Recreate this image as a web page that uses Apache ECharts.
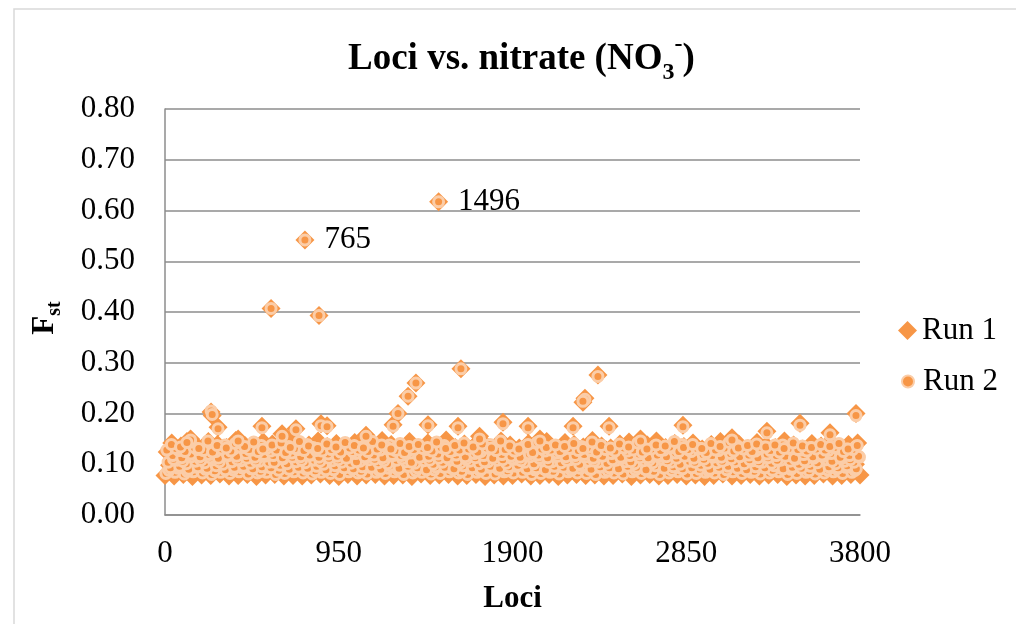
<!DOCTYPE html>
<html>
<head>
<meta charset="utf-8">
<script src="https://cdn.jsdelivr.net/npm/echarts@6/dist/echarts.min.js"></script>
<style>html,body{margin:0;padding:0;background:#fff}#c{width:1016px;height:624px}</style>
</head>
<body>
<div id="c"></div>
<script>
// x-axis tick labels
var xTicks = [0, 950, 1900, 2850, 3800];
// Dense band values are Fst x 1000, read as rows of loci sampled every 50 loci (row start locus given)
var rowStep = 50;
var run1Rows = [
 { start: 0, fst: [78,77,80,76,79,78,81,77,78,80,76,79,80,77,78,77,79,81,78,76,80,77,79,80,77,78,79,76,81,78,79,80,77,78,80,76,79,77,78,81,77,78,80,76,79,80,78,79,77,78,81,76,79,80,77,78,80,77,79,76,78,81,77,78,80,77,79,80,76,79,77,78,81,77,78,80,79] },
 { start: 25, fst: [98,104,93,107,96,101,92,106,99,95,103,94,100,97,108,95,101,105,92,102,97,106,95,99,104,91,100,107,96,98,103,94,101,97,106,93,99,105,96,102,92,107,98,95,103,100,108,94,101,97,105,93,99,104,96,106,97,100,94,103,98,105,93,101,96,107,95,99,104,94,102,98,104,96,106,100] },
 { start: 12, fst: [124,118,129,121,127,116,125,120,128,117,123,130,119,126,122,117,128,121,125,118,129,120,124,116,127,122,119,130,118,125,121,128,117,123,126,120,129,118,124,121,116,127,122,125,119,130,117,123,128,120,126,118,124,121,129,117,125,122,119,127,120,128,116,124,122,126,118,129,121,125,117,123,127,120,124,122] },
 { start: 37, fst: [142,136,148,131,145,139,133,147,137,130,144,140,134,149,132,138,146,135,141,129,143,137,131,147,139,134,145,130,142,136,148,133,140,135,144,131,146,138,132,141,137,145,130,143,139,134,147,136,132,140,144,129,138,146,133,141,135,142,130,139,145,134,140,131,143,137,133,146,138,130,141,136,144,132,139,142] }
];
var run2Rows = [
 { start: 5, fst: [82,84,81,85,83,80,84,82,85,81,83,84,80,82,85,83,81,84,82,80,85,83,81,84,82,85,80,83,84,81,82,85,83,80,84,82,81,85,83,84,80,82,84,81,85,83,82,80,84,83,81,85,82,84,80,83,85,81,82,84,83,80,85,82,84,81,83,85,80,82,84,81,83,85,82,84] },
 { start: 22, fst: [88,92,86,94,90,87,95,89,93,91,86,94,88,92,96,90,87,93,89,95,91,86,94,88,92,90,96,87,93,89,95,91,86,92,88,94,90,87,96,93,89,91,86,95,88,92,90,94,87,93,96,89,91,86,94,88,92,95,90,87,93,89,96,91,86,94,88,92,90,95,87,93,89,91,94,88] },
 { start: 30, fst: [93,96,90,95,92,97,89,94,96,91,95,93,98,90,94,92,96,89,97,93,91,95,94,90,97,92,96,93,89,95,94,91,97,93,90,96,92,95,98,91,93,89,96,94,92,97,90,95,93,91,96,94,89,97,92,95,91,93,98,90,94,96,92,89,95,93,97,91,94,92,96,90,95,93,97,91] },
 { start: 17, fst: [104,108,101,106,103,109,100,105,107,102,106,104,110,101,105,103,108,100,107,104,102,106,109,103,101,108,105,102,107,100,104,109,103,106,101,105,108,102,110,104,101,107,105,103,109,100,106,104,102,108,105,101,107,103,110,104,100,106,108,102,103,109,105,101,107,104,102,108,106,100,105,103,109,101,106,104] },
 { start: 47, fst: [110,106,115,108,113,105,117,109,112,107,116,104,111,114,108,118,106,112,109,115,105,113,110,107,117,111,104,114,108,112,116,106,110,113,105,118,109,111,107,115,112,104,116,108,110,114,106,117,109,111,105,113,108,115,107,112,118,104,110,114,106,111,116,109,105,113,108,117,110,107,112,115,106,111,109,114] },
 { start: 42, fst: [117,113,120,115,119,112,118,116,121,114,119,117,113,122,115,118,114,120,116,112,121,115,118,113,119,117,122,114,116,120,113,118,115,121,117,112,119,116,114,120,118,113,122,115,117,119,112,116,121,114,117,120,113,118,115,122,116,112,119,117,114,121,115,118,113,120,117,116,112,119,115,118,121,114,117,116] },
 { start: 27, fst: [131,127,136,129,134,125,138,130,133,128,137,126,132,135,129,139,127,133,130,136,125,134,131,128,138,132,126,135,129,133,137,127,131,134,125,139,130,132,128,136,133,126,137,129,131,135,127,138,130,132,126,134,129,136,128,133,139,125,131,135,127,132,137,130,126,134,129,138,131,128,133,136,127,132,130,135] },
 { start: 10, fst: [128,131,125,133,127,124,130,126,134,129,125,132,128,123,131,127,133,126,129,124,132,128,125,130,134,127,123,129,131,126,133,125,128,130,124,132,127,129,126,134,123,130,128,125,131,127,133,124,129,126,132,128,124,130,127,134,125,129,131,123,128,132,126,130,125,133,127,124,131,129,126,130,128,133,125,129] },
 { start: 35, fst: [139,134,143,131,146,137,132,141,135,144,130,138,142,133,145,136,131,140,134,143,137,132,145,138,130,141,135,139,133,144,131,137,142,134,140,132,146,136,130,139,143,133,138,135,141,131,144,137,132,140,134,142,130,138,136,145,133,139,131,141,135,143,132,137,140,134,138,131,142,136,133,139,135,141,130,137] }
];
// Individual high points [locus, Fst]
var run1Peaks = [[1496,0.617],[765,0.542],[580,0.407],[842,0.393],[1618,0.288],[2367,0.276],
[2296,0.230],[2285,0.222],[1372,0.260],[1329,0.234],[1274,0.200],[252,0.203],[258,0.196],
[3778,0.200],[290,0.173],[140,0.150],[530,0.175],[716,0.170],[853,0.180],[886,0.176],
[1099,0.157],[1247,0.178],[1438,0.178],[1602,0.175],[1848,0.183],[1985,0.175],[2231,0.175],
[2428,0.175],[2832,0.177],[3291,0.165],[3472,0.181],[3636,0.162],[120,0.145],[400,0.150],
[640,0.160],[2600,0.150],[3100,0.152],[1720,0.155],[2050,0.150]];
var run2Peaks = [[1496,0.617],[765,0.542],[580,0.407],[842,0.393],[1618,0.288],[2367,0.273],
[2296,0.228],[2285,0.224],[1372,0.260],[1329,0.234],[1274,0.200],[252,0.205],[258,0.198],
[3778,0.196],[290,0.170],[140,0.148],[530,0.172],[716,0.168],[853,0.176],[886,0.174],
[1099,0.155],[1247,0.175],[1438,0.176],[1602,0.172],[1848,0.180],[1985,0.172],[2231,0.172],
[2428,0.172],[2832,0.174],[3291,0.162],[3472,0.177],[3636,0.158],[120,0.143],[400,0.146],
[640,0.155],[2600,0.146],[3100,0.148],[1720,0.150],[2050,0.146]];
var labelledLoci = [765, 1496];

function build(rows, peaks, withLabels) {
  var d = [];
  rows.forEach(function (r) {
    r.fst.forEach(function (v, i) { d.push([r.start + rowStep * i, v / 1000]); });
  });
  peaks.forEach(function (p) {
    if (withLabels && labelledLoci.indexOf(p[0]) >= 0) {
      d.push({ value: p, label: { show: true, formatter: String(p[0]) } });
    } else d.push(p);
  });
  return d;
}
var data1 = build(run1Rows, run1Peaks, true);
var data2 = build(run2Rows, run2Peaks, false);

var serif = '"Liberation Serif", "Times New Roman", serif';
var chart = echarts.init(document.getElementById('c'), null, { renderer: 'canvas' });
chart.setOption({
  animation: false,
  backgroundColor: '#fff',
  textStyle: { fontFamily: serif },
  graphic: [{
    type: 'rect', shape: { x: 14, y: 9, width: 1100, height: 800 },
    style: { fill: 'none', stroke: '#D9D9D9', lineWidth: 1.5 }, silent: true, z: -1
  }],
  title: {
    text: '{a|Loci vs. nitrate (NO}{sub|3}{sup|-}{a|)}',
    left: 343, top: 28,
    textStyle: {
      rich: {
        a: { fontFamily: serif, fontWeight: 'bold', fontSize: 37, color: '#000', lineHeight: 52 },
        sub: { fontFamily: serif, fontWeight: 'bold', fontSize: 24, color: '#000', lineHeight: 24, verticalAlign: 'bottom' },
        sup: { fontFamily: serif, fontWeight: 'bold', fontSize: 24, color: '#000', lineHeight: 24, verticalAlign: 'top' }
      }
    }
  },
  legend: [{
    data: ['Run 1'], orient: 'vertical', left: 893, top: 310,
    itemWidth: 19, itemHeight: 19,
    textStyle: { fontFamily: serif, fontSize: 31, color: '#000' }
  }, {
    data: ['Run 2'], orient: 'vertical', left: 896, top: 361,
    itemWidth: 12, itemHeight: 12,
    textStyle: { fontFamily: serif, fontSize: 31, color: '#000', padding: [0, 0, 0, 4] }
  }],
  grid: { left: 165, right: 156, top: 109, bottom: 109 },
  xAxis: {
    type: 'value', min: xTicks[0], max: xTicks[xTicks.length - 1], interval: 950,
    name: 'Loci', nameLocation: 'middle', nameGap: 68,
    nameTextStyle: { fontFamily: serif, fontWeight: 'bold', fontSize: 31, color: '#000' },
    axisLine: { lineStyle: { color: '#8C8C8C', width: 1.5 } },
    axisTick: { show: false },
    splitLine: { show: false },
    axisLabel: { fontFamily: serif, fontSize: 31, color: '#000', margin: 23,
      formatter: function (v) { return String(v); } }
  },
  yAxis: {
    type: 'value', min: 0, max: 0.8, interval: 0.1,
    name: '{a|F}{sub|st}', nameLocation: 'middle', nameGap: 100, nameRotate: 90,
    nameTextStyle: {
      padding: [0, 12, 0, 0],
      rich: {
        a: { fontFamily: serif, fontWeight: 'bold', fontSize: 31, color: '#000', lineHeight: 40 },
        sub: { fontFamily: serif, fontWeight: 'bold', fontSize: 20, color: '#000', lineHeight: 20, verticalAlign: 'bottom' }
      }
    },
    axisLine: { show: true, lineStyle: { color: '#8C8C8C', width: 1.5 } },
    axisTick: { show: false },
    splitLine: { lineStyle: { color: '#8C8C8C', width: 1.5 } },
    axisLabel: { fontFamily: serif, fontSize: 31, color: '#000', margin: 30,
      formatter: function (v) { return v.toFixed(2); } }
  },
  series: [{
    name: 'Run 1', type: 'scatter', symbol: 'diamond', symbolSize: 19,
    itemStyle: { color: '#F79646', opacity: 1 },
    label: { position: 'right', distance: 10, fontFamily: serif, fontSize: 31, color: '#000' },
    data: data1, z: 2
  }, {
    name: 'Run 2', type: 'scatter', symbol: 'circle', symbolSize: 10,
    itemStyle: { color: '#F79646', borderColor: '#FBCDA8', borderWidth: 3, opacity: 1 },
    data: data2, z: 3
  }]
});
</script>
</body>
</html>
